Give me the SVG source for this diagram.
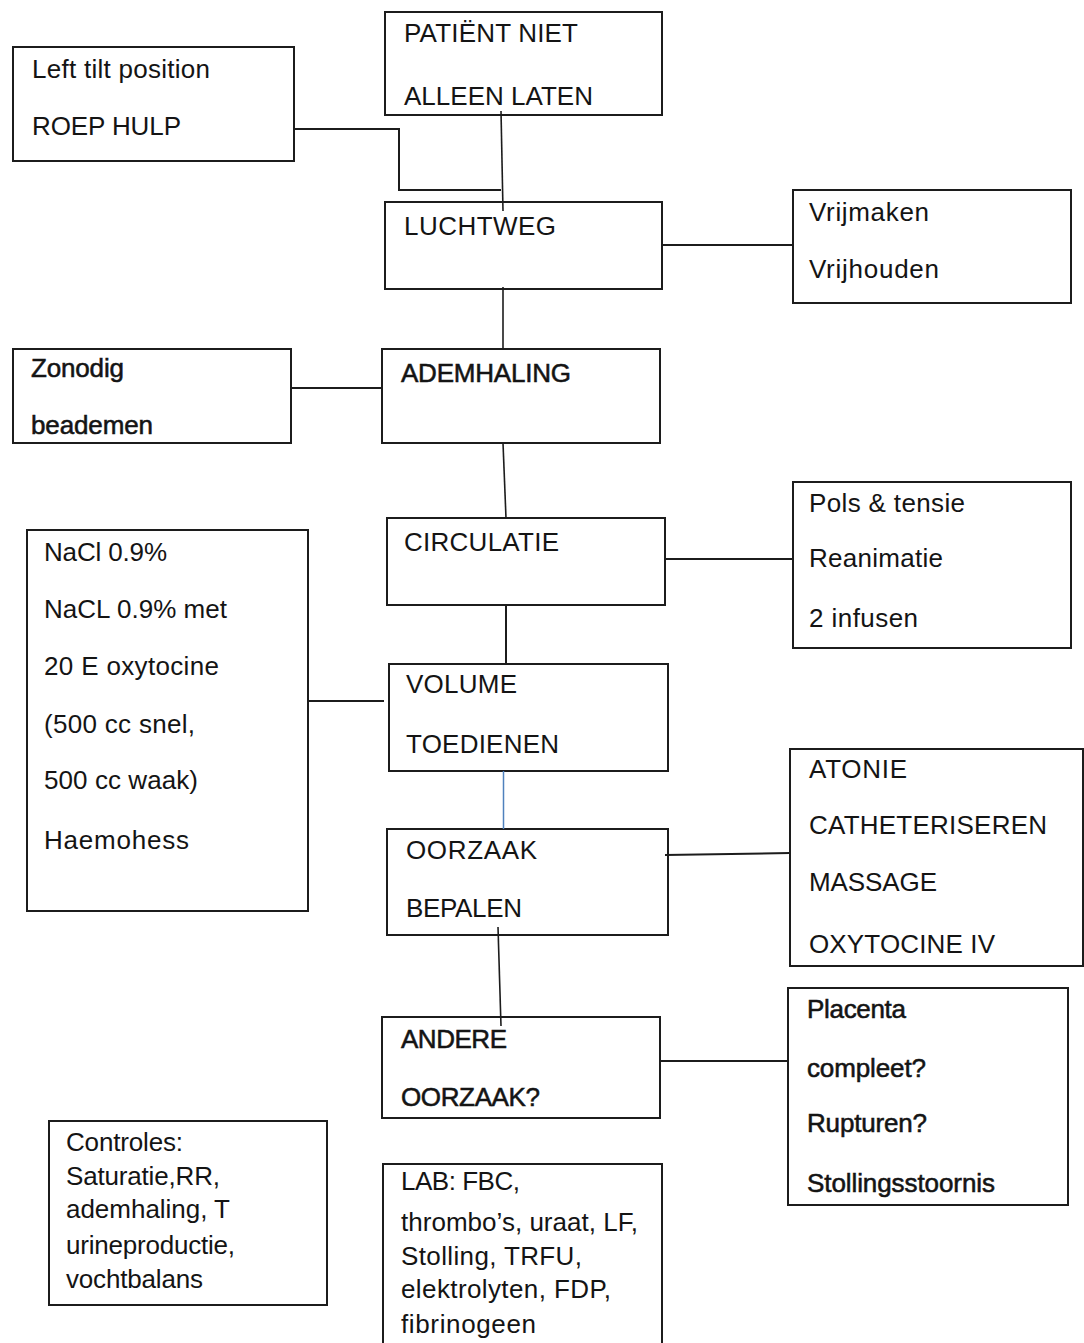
<svg xmlns="http://www.w3.org/2000/svg" width="1084" height="1343" viewBox="0 0 1084 1343">
<style>
.box{fill:#fff;stroke:#1c1c1c;stroke-width:2}
.t{font-family:"Liberation Sans",Arial,sans-serif;font-size:26px;fill:#141414}
.h{stroke:#141414;stroke-width:0.55}
.c{fill:none;stroke:#1c1c1c;stroke-width:2}
.cv{stroke-width:1.6}
.blue{stroke:#4f81bd;stroke-width:1.5}
</style>
<rect width="1084" height="1343" fill="#fff"/>
<g id="node-patient">
<rect class="box" x="385" y="12" width="277" height="103"/>
<text class="t" x="404" y="42" textLength="174">PATIËNT NIET</text>
<text class="t" x="404" y="105" textLength="189">ALLEEN LATEN</text>
</g>
<g id="node-lefttilt">
<rect class="box" x="13" y="47" width="281" height="114"/>
<text class="t" x="32" y="78" textLength="178">Left tilt position</text>
<text class="t" x="32" y="135" textLength="149">ROEP HULP</text>
</g>
<g id="node-luchtweg">
<rect class="box" x="385" y="202" width="277" height="87"/>
<text class="t" x="404" y="235" textLength="152">LUCHTWEG</text>
</g>
<g id="node-vrijmaken">
<rect class="box" x="793" y="190" width="278" height="113"/>
<text class="t" x="809" y="221" textLength="120">Vrijmaken</text>
<text class="t" x="809" y="278" textLength="130">Vrijhouden</text>
</g>
<g id="node-zonodig">
<rect class="box" x="13" y="349" width="278" height="94"/>
<text class="t h" x="31" y="377" textLength="93">Zonodig</text>
<text class="t h" x="31" y="434" textLength="122">beademen</text>
</g>
<g id="node-ademhaling">
<rect class="box" x="382" y="349" width="278" height="94"/>
<text class="t h" x="401" y="382" textLength="170">ADEMHALING</text>
</g>
<g id="node-circulatie">
<rect class="box" x="387" y="518" width="278" height="87"/>
<text class="t" x="404" y="551" textLength="155">CIRCULATIE</text>
</g>
<g id="node-pols">
<rect class="box" x="793" y="482" width="278" height="166"/>
<text class="t" x="809" y="512" textLength="156">Pols &amp; tensie</text>
<text class="t" x="809" y="567" textLength="134">Reanimatie</text>
<text class="t" x="809" y="627" textLength="109">2 infusen</text>
</g>
<g id="node-nacl">
<rect class="box" x="27" y="530" width="281" height="381"/>
<text class="t" x="44" y="561" textLength="123">NaCl 0.9%</text>
<text class="t" x="44" y="618" textLength="183">NaCL 0.9% met</text>
<text class="t" x="44" y="675" textLength="175">20 E oxytocine</text>
<text class="t" x="44" y="733" textLength="151">(500 cc snel,</text>
<text class="t" x="44" y="789" textLength="154">500 cc waak)</text>
<text class="t" x="44" y="849" textLength="145">Haemohess</text>
</g>
<g id="node-volume">
<rect class="box" x="389" y="664" width="279" height="107"/>
<text class="t" x="406" y="693" textLength="111">VOLUME</text>
<text class="t" x="406" y="753" textLength="153">TOEDIENEN</text>
</g>
<g id="node-oorzaak">
<rect class="box" x="387" y="829" width="281" height="106"/>
<text class="t" x="406" y="859" textLength="131">OORZAAK</text>
<text class="t" x="406" y="917" textLength="116">BEPALEN</text>
</g>
<g id="node-atonie">
<rect class="box" x="790" y="749" width="293" height="217"/>
<text class="t" x="809" y="778" textLength="98">ATONIE</text>
<text class="t" x="809" y="834" textLength="238">CATHETERISEREN</text>
<text class="t" x="809" y="891" textLength="128">MASSAGE</text>
<text class="t" x="809" y="953" textLength="186">OXYTOCINE IV</text>
</g>
<g id="node-andere">
<rect class="box" x="382" y="1017" width="278" height="101"/>
<text class="t h" x="401" y="1048" textLength="106">ANDERE</text>
<text class="t h" x="401" y="1106" textLength="139">OORZAAK?</text>
</g>
<g id="node-placenta">
<rect class="box" x="788" y="988" width="280" height="217"/>
<text class="t h" x="807" y="1018" textLength="99">Placenta</text>
<text class="t h" x="807" y="1077" textLength="119">compleet?</text>
<text class="t h" x="807" y="1132" textLength="120">Rupturen?</text>
<text class="t h" x="807" y="1192" textLength="188">Stollingsstoornis</text>
</g>
<g id="node-controles">
<rect class="box" x="49" y="1121" width="278" height="184"/>
<text class="t" x="66" y="1151" textLength="117">Controles:</text>
<text class="t" x="66" y="1185" textLength="154">Saturatie,RR,</text>
<text class="t" x="66" y="1218" textLength="164">ademhaling, T</text>
<text class="t" x="66" y="1254" textLength="169">urineproductie,</text>
<text class="t" x="66" y="1288" textLength="137">vochtbalans</text>
</g>
<g id="node-lab">
<rect class="box" x="383" y="1164" width="279" height="200"/>
<text class="t" x="401" y="1190" textLength="119">LAB: FBC,</text>
<text class="t" x="401" y="1231" textLength="237">thrombo’s, uraat, LF,</text>
<text class="t" x="401" y="1265" textLength="181">Stolling, TRFU,</text>
<text class="t" x="401" y="1298" textLength="210">elektrolyten, FDP,</text>
<text class="t" x="401" y="1333" textLength="135">fibrinogeen</text>
</g>
<g id="connectors">
<path class="c cv" d="M501 111 L503 211"/>
<path class="c" d="M294 129 H399 V190 H501"/>
<path class="c" d="M662 245 H793"/>
<path class="c cv" d="M503 287 L503 350"/>
<path class="c" d="M291 388 H382"/>
<path class="c cv" d="M503 443 L506 518"/>
<path class="c" d="M665 559 H793"/>
<path class="c" d="M506 605 V664"/>
<path class="c" d="M308 701 H384"/>
<path class="c blue" d="M503.5 771 V829"/>
<path class="c" d="M665 855 L790 853"/>
<path class="c cv" d="M498 927 L501 1026"/>
<path class="c" d="M660 1061 H788"/>
</g>
</svg>
